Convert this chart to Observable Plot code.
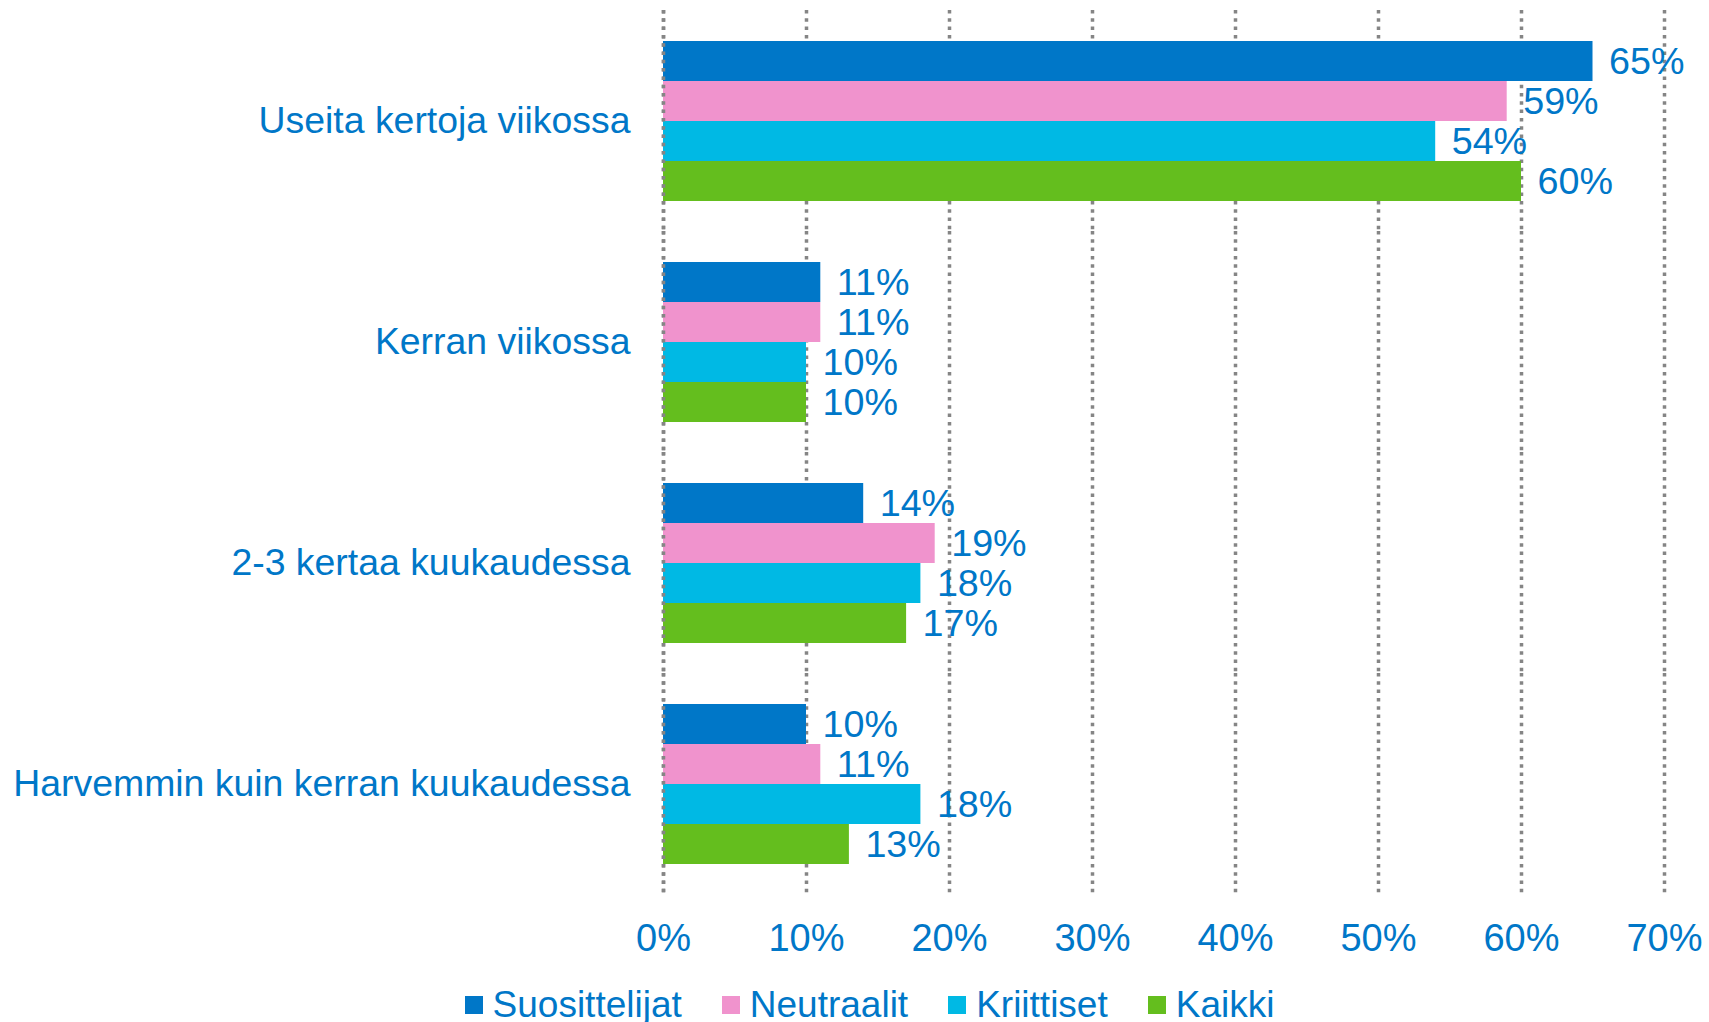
<!DOCTYPE html>
<html>
<head>
<meta charset="utf-8">
<script src="https://cdn.jsdelivr.net/npm/d3@7"></script>
<script src="https://cdn.jsdelivr.net/npm/@observablehq/plot@0.6"></script>
<style>
  html, body { margin: 0; padding: 0; background: #fff; overflow: hidden; }
  body { font-family: "Liberation Sans", Arial, sans-serif; }
  #legend { display: flex; justify-content: center; align-items: center; height: 36px; margin-top: 22px; padding-left: 30px; font-size: 37px; color: #0077C8; line-height: 36px; }
  #legend .item { display: flex; align-items: center; margin: 0 20px; }
  #legend .sw { width: 18px; height: 18px; margin-right: 10px; }
</style>
</head>
<body>
<div id="chart"></div>
<div id="legend"></div>
<script>
const categories = ["Useita kertoja viikossa", "Kerran viikossa", "2-3 kertaa kuukaudessa", "Harvemmin kuin kerran kuukaudessa"];
const series = ["Suosittelijat", "Neutraalit", "Kriittiset", "Kaikki"];
const suosittelijat = [65, 11, 14, 10];
const neutraalit = [59, 11, 19, 11];
const kriittiset = [54, 10, 18, 18];
const kaikki = [60, 10, 17, 13];
const xTicks = [0, 10, 20, 30, 40, 50, 60, 70];
const colors = ["#0077C8", "#F093CD", "#00B9E4", "#64BE1E"];
const textColor = "#0077C8";

const valuesBySeries = [suosittelijat, neutraalit, kriittiset, kaikki];
const data = [];
categories.forEach((c, i) => {
  series.forEach((s, j) => {
    data.push({category: c, series: s, value: valuesBySeries[j][i]});
  });
});

const gridStyle = {stroke: "#858585", strokeWidth: 3.5, strokeDasharray: "3.5,4.8"};

const chart = Plot.plot({
  width: 1709,
  height: 965,
  marginLeft: 663,
  marginRight: 45,
  marginTop: 9,
  marginBottom: 71,
  style: {fontFamily: "'Liberation Sans', Arial, sans-serif", color: textColor, background: "#fff"},
  x: {domain: [0, 70]},
  y: {domain: series, axis: null, paddingInner: 0, paddingOuter: 0.7},
  fy: {domain: categories, padding: 0},
  color: {domain: series, range: colors},
  marks: [
    Plot.ruleX(xTicks, gridStyle),
    Plot.barX(data, {x: "value", y: "series", fy: "category", fill: "series"}),
    Plot.ruleX([0], gridStyle),
    Plot.text(data, {x: "value", y: "series", fy: "category", text: d => d.value + "%", textAnchor: "start", dx: 16, fill: textColor, fontSize: 37.7}),
    Plot.axisFy({anchor: "left", tickSize: 0, tickPadding: 33, fontSize: 37.4, label: null, fill: textColor}),
    Plot.axisX(xTicks, {anchor: "bottom", tickSize: 0, tickPadding: 30, fontSize: 38, tickFormat: d => d + "%", label: null, fill: textColor})
  ]
});
document.getElementById("chart").appendChild(chart);

const legend = document.getElementById("legend");
series.forEach((s, i) => {
  const item = document.createElement("div");
  item.className = "item";
  const sw = document.createElement("span");
  sw.className = "sw";
  sw.style.background = colors[i];
  const label = document.createElement("span");
  label.textContent = s;
  item.appendChild(sw);
  item.appendChild(label);
  legend.appendChild(item);
});
</script>
</body>
</html>
